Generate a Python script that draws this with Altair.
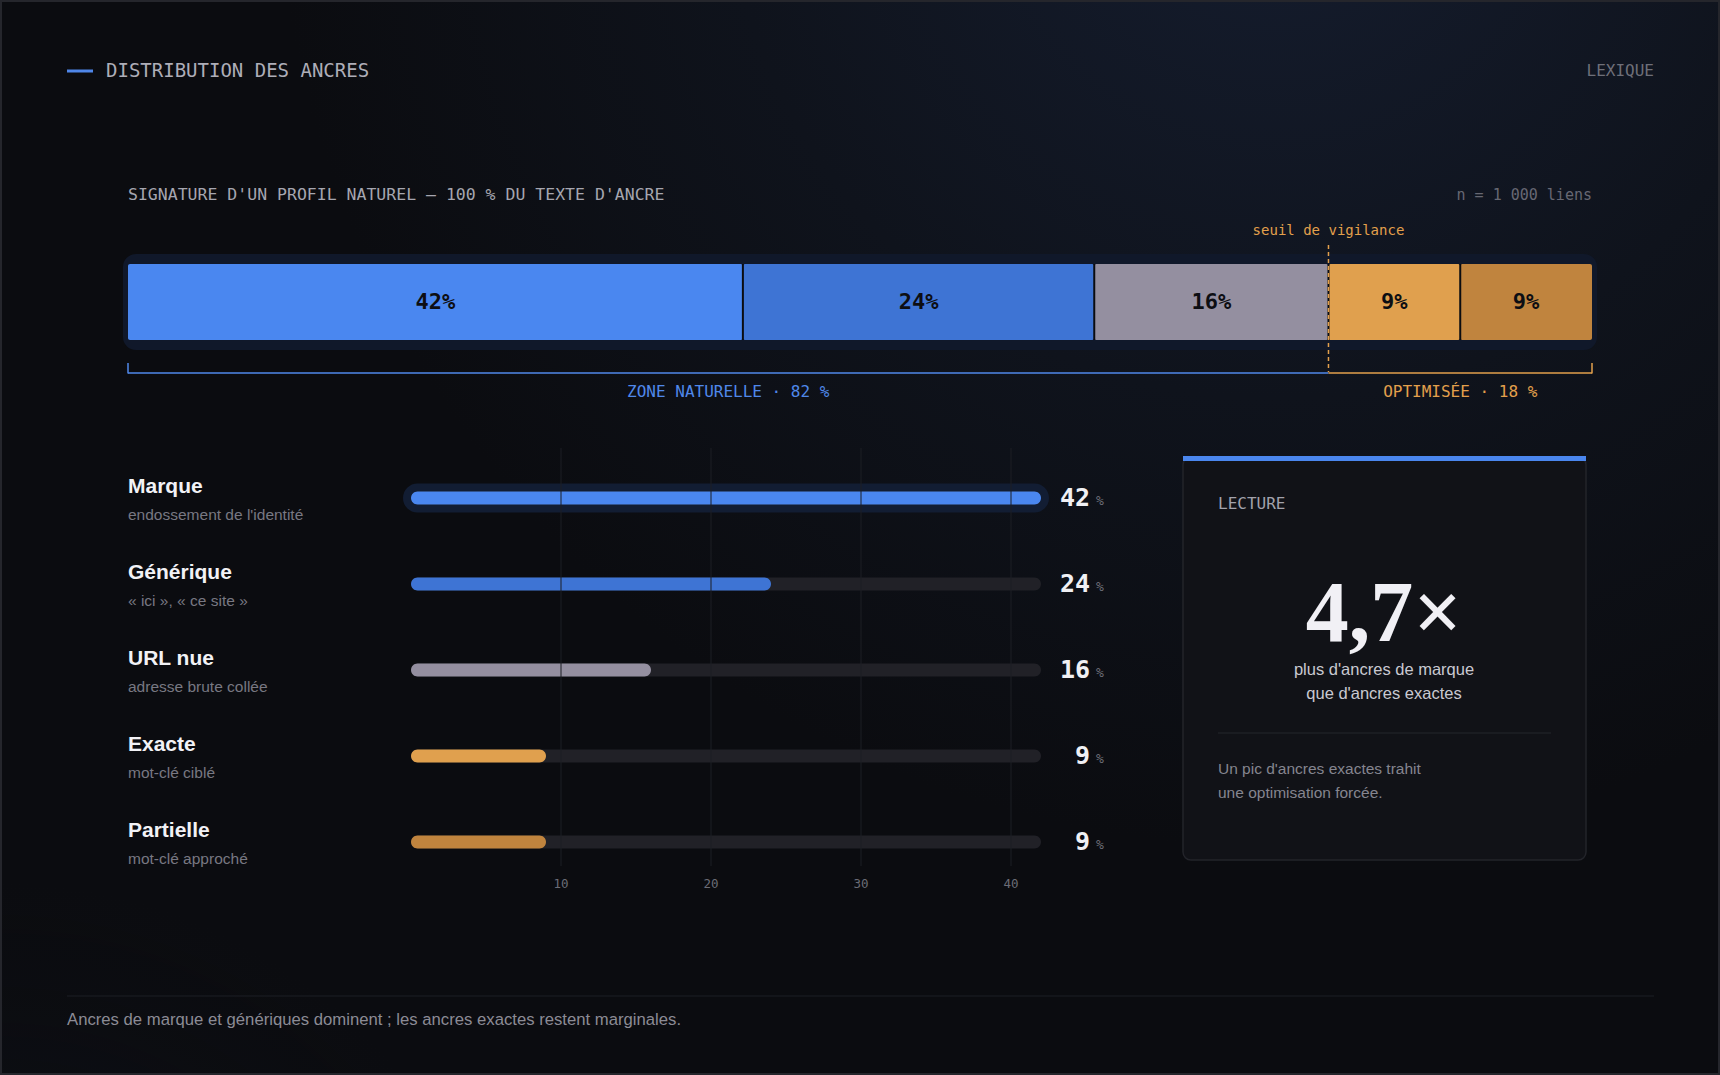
import altair as alt
import pandas as pd

# ---- data -------------------------------------------------------------
categories = ["Marque", "Générique", "URL nue", "Exacte", "Partielle"]
descriptions = [
    "endossement de l'identité",
    "« ici », « ce site »",
    "adresse brute collée",
    "mot-clé ciblé",
    "mot-clé approché",
]
shares = [42, 24, 16, 9, 9]
colors = ["#4a87f0", "#3e74d4", "#948fa0", "#e0a04e", "#c0843e"]
ticks = [10, 20, 30, 40]
zone_names = ["ZONE NATURELLE", "OPTIMISÉE"]
zone_colors = ["#5088ea", "#e3a04c"]
n_links = "n = 1 000 liens"

# ---- styling ----------------------------------------------------------
MONO = "DejaVu Sans Mono"
SANS = "Liberation Sans"
SERIF = "Liberation Serif"
BG = "#0b0c10"

# ---- derived tables ---------------------------------------------------
rows = pd.DataFrame({"cat": categories, "desc": descriptions,
                     "share": shares, "col": colors})
rows["end"] = rows["share"].cumsum()
rows["start"] = rows["end"] - rows["share"]
rows["mid"] = (rows["start"] + rows["end"]) / 2
rows["lbl"] = rows["share"].astype(str) + "%"
rows["num"] = rows["share"].astype(str)
rows["zero"] = 0
rows["full"] = max(shares)

natural = int(sum(shares[:3]))
threshold = natural
zones = pd.DataFrame({
    "name": [f"{zone_names[0]} · {natural} %", f"{zone_names[1]} · {100 - natural} %"],
    "start": [0, natural],
    "end": [natural, 100],
    "col": zone_colors,
})
zones["mid"] = (zones["start"] + zones["end"]) / 2
zone_ends = pd.DataFrame({"x": [0, 100], "col": zone_colors})
seps = rows.iloc[:-1]
tick_df = pd.DataFrame({"t": ticks, "lbl": [str(t) for t in ticks]})
whole = pd.DataFrame({"start": [0], "end": [100]})
one = pd.DataFrame({"k": [0]})

ratio = f"{shares[0] / shares[3]:.1f}".replace(".", ",") + "×"

# ---- scales -----------------------------------------------------------
stack_x = alt.Scale(domain=[0, 100], range=[128, 1592])
bar_x = alt.Scale(domain=[0, max(shares)], range=[411, 1041])
row_y = alt.Scale(type="point", domain=categories, range=[498, 842], padding=0)
ident = alt.Color("col:N", scale=None)


def label(text, x, y, size, color, font=SANS, weight="normal", align="left",
          baseline="middle"):
    return alt.Chart(one).mark_text(
        text=text, font=font, fontSize=size, fontWeight=weight, color=color,
        align=align, baseline=baseline,
    ).encode(x=alt.value(x), y=alt.value(y))


def box(x, x2, y, y2, **kw):
    return alt.Chart(one).mark_rect(**kw).encode(
        x=alt.value(x), x2=alt.value(x2), y=alt.value(y), y2=alt.value(y2))


layers = []

# background with blue glows
layers.append(box(0, 1720, 0, 1075, fill=alt.RadialGradient(
    gradient="radial", x1=0.74, y1=0.1, x2=0.74, y2=0.1, r1=0, r2=0.58,
    stops=[alt.GradientStop(offset=0, color="#151d2f"),
           alt.GradientStop(offset=0.55, color="#0f131c"),
           alt.GradientStop(offset=1, color=BG)])))
layers.append(box(0, 1720, 0, 1075, fill=alt.RadialGradient(
    gradient="radial", x1=0.0, y1=1.0, x2=0.0, y2=1.0, r1=0, r2=0.3,
    stops=[alt.GradientStop(offset=0, color="rgba(20,30,50,0.45)"),
           alt.GradientStop(offset=1, color="rgba(11,12,16,0)")])))
layers.append(box(1, 1719, 1, 1074, fill="transparent", stroke="#25262c",
                  strokeWidth=2))

# header
layers.append(alt.Chart(one).mark_rule(color="#4f86e8", strokeWidth=3).encode(
    x=alt.value(67), x2=alt.value(93), y=alt.value(71)))
layers.append(label("DISTRIBUTION DES ANCRES", 106, 71, 19, "#aeaeb8", MONO))
layers.append(label("LEXIQUE", 1654, 71, 16, "#6e6f79", MONO, align="right"))

# stacked signature bar
layers.append(label("SIGNATURE D'UN PROFIL NATUREL — 100 % DU TEXTE D'ANCRE",
                    128, 195, 16.5, "#a6a6b0", MONO))
layers.append(label(n_links, 1592, 195, 15, "#676873", MONO, align="right"))

layers.append(alt.Chart(whole).mark_rect(
    color="#10182a", stroke="#10182a", strokeWidth=10, cornerRadius=8).encode(
    x=alt.X("start:Q", scale=stack_x, axis=None), x2="end:Q",
    y=alt.value(259), y2=alt.value(345)))
layers.append(alt.Chart(rows).mark_rect(cornerRadius=2).encode(
    x=alt.X("start:Q", scale=stack_x, axis=None), x2="end:Q",
    y=alt.value(264), y2=alt.value(340), color=ident))
layers.append(alt.Chart(seps).mark_rule(color=BG, strokeWidth=2).encode(
    x=alt.X("end:Q", scale=stack_x, axis=None),
    y=alt.value(264), y2=alt.value(340)))
layers.append(alt.Chart(rows).mark_text(
    font=MONO, fontSize=22, fontWeight="bold", color="#0d0e13",
    baseline="middle").encode(
    x=alt.X("mid:Q", scale=stack_x, axis=None), y=alt.value(302),
    text="lbl:N"))

# vigilance threshold
thr = pd.DataFrame({"x": [threshold]})
layers.append(alt.Chart(thr).mark_rule(
    color="#e3a04c", strokeWidth=1.5, strokeDash=[4, 3]).encode(
    x=alt.X("x:Q", scale=stack_x, axis=None),
    y=alt.value(245), y2=alt.value(372)))
layers.append(alt.Chart(thr).mark_text(
    text="seuil de vigilance", font=MONO, fontSize=14, color="#e3a04c",
    baseline="middle").encode(
    x=alt.X("x:Q", scale=stack_x, axis=None), y=alt.value(231)))

# zone brackets
layers.append(alt.Chart(zones).mark_rule(strokeWidth=1.5).encode(
    x=alt.X("start:Q", scale=stack_x, axis=None), x2="end:Q",
    y=alt.value(373), color=ident))
layers.append(alt.Chart(zone_ends).mark_rule(strokeWidth=1.5).encode(
    x=alt.X("x:Q", scale=stack_x, axis=None),
    y=alt.value(363), y2=alt.value(373.5), color=ident))
layers.append(alt.Chart(zones).mark_text(
    font=MONO, fontSize=16, baseline="middle").encode(
    x=alt.X("mid:Q", scale=stack_x, axis=None), y=alt.value(392),
    text="name:N", color=ident))

# per-category bars
marque = rows[rows["cat"] == categories[0]]
layers.append(alt.Chart(marque).mark_bar(
    height=13, cornerRadius=6.5, color="#121d33", stroke="#121d33",
    strokeWidth=16).encode(
    x=alt.X("zero:Q", scale=bar_x, axis=None), x2="share:Q",
    y=alt.Y("cat:N", scale=row_y, axis=None)))
layers.append(alt.Chart(rows).mark_bar(
    height=13, cornerRadius=6.5, color="#212127").encode(
    x=alt.X("zero:Q", scale=bar_x, axis=None), x2="full:Q",
    y=alt.Y("cat:N", scale=row_y, axis=None)))
layers.append(alt.Chart(rows).mark_bar(height=13, cornerRadius=6.5).encode(
    x=alt.X("zero:Q", scale=bar_x, axis=None), x2="share:Q",
    y=alt.Y("cat:N", scale=row_y, axis=None), color=ident))

# grid lines and tick labels
layers.append(alt.Chart(tick_df).mark_rule(color="#1d1e25", strokeWidth=1).encode(
    x=alt.X("t:Q", scale=bar_x, axis=None),
    y=alt.value(448), y2=alt.value(866)))
layers.append(alt.Chart(tick_df).mark_text(
    font=MONO, fontSize=12.5, color="#6b6c76", baseline="middle").encode(
    x=alt.X("t:Q", scale=bar_x, axis=None), y=alt.value(884), text="lbl:N"))

# row labels
layers.append(alt.Chart(rows).mark_text(
    font=SANS, fontSize=21, fontWeight="bold", color="#f2f2f6", align="left",
    baseline="middle", dy=-11).encode(
    x=alt.value(128), y=alt.Y("cat:N", scale=row_y, axis=None), text="cat:N"))
layers.append(alt.Chart(rows).mark_text(
    font=SANS, fontSize=15.5, color="#787882", align="left",
    baseline="middle", dy=17).encode(
    x=alt.value(128), y=alt.Y("cat:N", scale=row_y, axis=None), text="desc:N"))
layers.append(alt.Chart(rows).mark_text(
    font=MONO, fontSize=25, fontWeight="bold", color="#f0f0f4", align="right",
    baseline="middle").encode(
    x=alt.value(1090), y=alt.Y("cat:N", scale=row_y, axis=None), text="num:N"))
layers.append(alt.Chart(rows).mark_text(
    text="%", font=MONO, fontSize=13, color="#6c6d77", align="left",
    baseline="middle", dy=3).encode(
    x=alt.value(1096), y=alt.Y("cat:N", scale=row_y, axis=None)))

# reading card
layers.append(box(1183, 1586, 457, 860, fill="#111217", stroke="#23242a",
                  strokeWidth=1.5, cornerRadius=8))
layers.append(box(1183, 1586, 456, 461, fill="#4a86ee"))
layers.append(label("LECTURE", 1218, 504, 16, "#a2a2ac", MONO))
layers.append(label(ratio, 1384, 641, 86, "#f1f0f5", SERIF, "bold",
                    align="center", baseline="alphabetic"))
layers.append(label("plus d'ancres de marque", 1384, 670, 16.5, "#c9c9d1",
                    align="center"))
layers.append(label("que d'ancres exactes", 1384, 694, 16.5, "#c9c9d1",
                    align="center"))
layers.append(alt.Chart(one).mark_rule(color="#25262c", strokeWidth=1).encode(
    x=alt.value(1218), x2=alt.value(1551), y=alt.value(733)))
layers.append(label("Un pic d'ancres exactes trahit", 1218, 769, 15.5, "#85858f"))
layers.append(label("une optimisation forcée.", 1218, 793, 15.5, "#85858f"))

# footer
layers.append(alt.Chart(one).mark_rule(color="#1d1e24", strokeWidth=1).encode(
    x=alt.value(67), x2=alt.value(1654), y=alt.value(996)))
layers.append(label(
    "Ancres de marque et génériques dominent ; les ancres exactes restent marginales.",
    67, 1020, 16.7, "#8b8b95"))

chart = alt.layer(*layers).properties(
    width=1720, height=1075, padding=0,
    autosize=alt.AutoSizeParams(type="none"),
).resolve_scale(x="independent").configure(background=BG).configure_view(
    stroke=None)

chart.save("out.html", embed_options={"renderer": "svg", "actions": False})
